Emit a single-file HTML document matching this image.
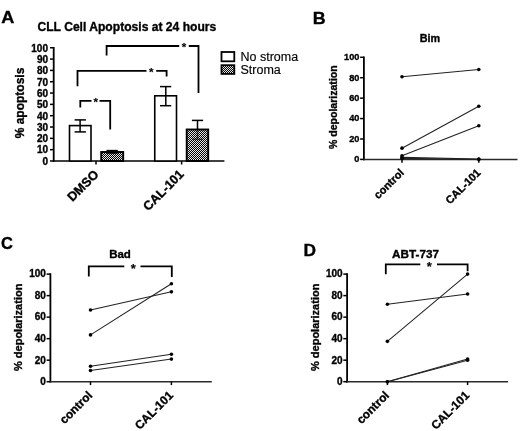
<!DOCTYPE html>
<html><head><meta charset="utf-8"><title>Figure</title>
<style>
html,body{margin:0;padding:0;background:#fff;}
svg{display:block;font-family:"Liberation Sans", Arial, Helvetica, sans-serif;fill:#000;}
.soft{filter:blur(0.35px);}
text{stroke:#000;stroke-width:0.35px;}
text.n{stroke-width:0.15px;}
</style></head><body>
<svg width="520" height="431" viewBox="0 0 520 431">
<defs>
<pattern id="chk" width="2" height="2" patternUnits="userSpaceOnUse">
<rect width="2" height="2" fill="#050505"/>
<rect width="1" height="1" fill="#e6e6e6"/><rect x="1" y="1" width="1" height="1" fill="#e6e6e6"/>
</pattern>
</defs>
<rect width="520" height="431" fill="#fff"/>
<g>
<rect x="101.2" y="152.0" width="22.0" height="9.0" fill="url(#chk)"/>
<rect x="186.7" y="129.5" width="21.5" height="31.5" fill="url(#chk)"/>
<rect x="221.5" y="65.2" width="12.8" height="8.7" fill="url(#chk)"/>
</g>
<g class="soft">
<text transform="translate(1.2 23.2) scale(1.13 1)" font-size="16" font-weight="bold">A</text>
<text x="37.5" y="31" font-size="12.1" font-weight="bold" text-anchor="start">CLL Cell Apoptosis at 24 hours</text>
<line x1="53.7" y1="46.95" x2="53.7" y2="161.8" stroke="#000" stroke-width="1.8" stroke-linecap="butt"/>
<line x1="52.800000000000004" y1="161.0" x2="224.4" y2="161.0" stroke="#000" stroke-width="1.6" stroke-linecap="butt"/>
<line x1="50.0" y1="161.0" x2="53.7" y2="161.0" stroke="#000" stroke-width="1.5" stroke-linecap="butt"/>
<text x="48" y="164.8" font-size="10" font-weight="bold" text-anchor="end">0</text>
<line x1="50.0" y1="149.675" x2="53.7" y2="149.675" stroke="#000" stroke-width="1.5" stroke-linecap="butt"/>
<text x="48" y="153.48" font-size="10" font-weight="bold" text-anchor="end">10</text>
<line x1="50.0" y1="138.35" x2="53.7" y2="138.35" stroke="#000" stroke-width="1.5" stroke-linecap="butt"/>
<text x="48" y="142.15" font-size="10" font-weight="bold" text-anchor="end">20</text>
<line x1="50.0" y1="127.025" x2="53.7" y2="127.025" stroke="#000" stroke-width="1.5" stroke-linecap="butt"/>
<text x="48" y="130.83" font-size="10" font-weight="bold" text-anchor="end">30</text>
<line x1="50.0" y1="115.69999999999999" x2="53.7" y2="115.69999999999999" stroke="#000" stroke-width="1.5" stroke-linecap="butt"/>
<text x="48" y="119.5" font-size="10" font-weight="bold" text-anchor="end">40</text>
<line x1="50.0" y1="104.375" x2="53.7" y2="104.375" stroke="#000" stroke-width="1.5" stroke-linecap="butt"/>
<text x="48" y="108.17" font-size="10" font-weight="bold" text-anchor="end">50</text>
<line x1="50.0" y1="93.05" x2="53.7" y2="93.05" stroke="#000" stroke-width="1.5" stroke-linecap="butt"/>
<text x="48" y="96.85" font-size="10" font-weight="bold" text-anchor="end">60</text>
<line x1="50.0" y1="81.725" x2="53.7" y2="81.725" stroke="#000" stroke-width="1.5" stroke-linecap="butt"/>
<text x="48" y="85.52" font-size="10" font-weight="bold" text-anchor="end">70</text>
<line x1="50.0" y1="70.39999999999999" x2="53.7" y2="70.39999999999999" stroke="#000" stroke-width="1.5" stroke-linecap="butt"/>
<text x="48" y="74.2" font-size="10" font-weight="bold" text-anchor="end">80</text>
<line x1="50.0" y1="59.07499999999999" x2="53.7" y2="59.07499999999999" stroke="#000" stroke-width="1.5" stroke-linecap="butt"/>
<text x="48" y="62.87" font-size="10" font-weight="bold" text-anchor="end">90</text>
<line x1="50.0" y1="47.75" x2="53.7" y2="47.75" stroke="#000" stroke-width="1.5" stroke-linecap="butt"/>
<text x="48" y="51.55" font-size="10" font-weight="bold" text-anchor="end">100</text>
<line x1="96" y1="161.0" x2="96" y2="164.5" stroke="#000" stroke-width="1.5" stroke-linecap="butt"/>
<line x1="181.6" y1="161.0" x2="181.6" y2="164.5" stroke="#000" stroke-width="1.5" stroke-linecap="butt"/>
<text x="23.6" y="103" font-size="12" font-weight="bold" text-anchor="middle" transform="rotate(-90 23.6 103)">% apoptosis</text>
<rect x="69.5" y="125.6" width="21.5" height="35.4" fill="#fff" stroke="#000" stroke-width="1.6"/>
<line x1="80.1" y1="119.9" x2="80.1" y2="131.9" stroke="#000" stroke-width="1.5" stroke-linecap="butt"/>
<line x1="74.6" y1="131.9" x2="85.9" y2="131.9" stroke="#000" stroke-width="1.5" stroke-linecap="butt"/>
<line x1="74.6" y1="119.9" x2="85.9" y2="119.9" stroke="#000" stroke-width="1.5" stroke-linecap="butt"/>
<rect x="101.2" y="152.0" width="22.0" height="9.0" fill="none" stroke="#000" stroke-width="1.9"/>
<line x1="112.1" y1="150.6" x2="112.1" y2="153.0" stroke="#000" stroke-width="1.5" stroke-linecap="butt"/>
<line x1="106.5" y1="153.0" x2="117.75" y2="153.0" stroke="#000" stroke-width="1.5" stroke-linecap="butt"/>
<line x1="106.5" y1="150.6" x2="117.75" y2="150.6" stroke="#000" stroke-width="1.5" stroke-linecap="butt"/>
<rect x="154.75" y="95.8" width="21.75" height="65.2" fill="#fff" stroke="#000" stroke-width="1.6"/>
<line x1="165.8" y1="86.6" x2="165.8" y2="105.7" stroke="#000" stroke-width="1.5" stroke-linecap="butt"/>
<line x1="160" y1="105.7" x2="171.25" y2="105.7" stroke="#000" stroke-width="1.5" stroke-linecap="butt"/>
<line x1="160" y1="86.6" x2="171.25" y2="86.6" stroke="#000" stroke-width="1.5" stroke-linecap="butt"/>
<rect x="186.7" y="129.5" width="21.5" height="31.5" fill="none" stroke="#000" stroke-width="1.9"/>
<line x1="197.5" y1="120.4" x2="197.5" y2="129.5" stroke="#000" stroke-width="1.5" stroke-linecap="butt"/>
<g opacity="0.55">
<line x1="197.5" y1="129.5" x2="197.5" y2="139.4" stroke="#000" stroke-width="1.5" stroke-linecap="butt"/>
<line x1="191.9" y1="139.4" x2="203.1" y2="139.4" stroke="#000" stroke-width="1.5" stroke-linecap="butt"/>
</g>
<line x1="191.9" y1="120.4" x2="203.1" y2="120.4" stroke="#000" stroke-width="1.5" stroke-linecap="butt"/>
<polyline fill="none" stroke="#000" stroke-width="1.8" points="80.3,107.6 80.3,100.9 91.5,100.9"/>
<polyline fill="none" stroke="#000" stroke-width="1.8" points="99.5,100.9 110.2,100.9 110.2,129.5"/>
<text x="95.7" y="106.4" font-size="11.5" font-weight="bold" text-anchor="middle" class="n">*</text>
<polyline fill="none" stroke="#000" stroke-width="1.8" points="77.5,86.2 77.5,70.9 146.5,70.9"/>
<polyline fill="none" stroke="#000" stroke-width="1.8" points="156.2,70.9 166.6,70.9 166.6,76.6"/>
<text x="151.3" y="75.6" font-size="11.5" font-weight="bold" text-anchor="middle" class="n">*</text>
<polyline fill="none" stroke="#000" stroke-width="1.8" points="106.6,55.6 106.6,46.0 179.2,46.0"/>
<polyline fill="none" stroke="#000" stroke-width="1.8" points="188.8,46.0 198.5,46.0 198.5,93"/>
<text x="184" y="50.7" font-size="11.5" font-weight="bold" text-anchor="middle" class="n">*</text>
<rect x="221.5" y="52" width="12.8" height="9.3" fill="#fff" stroke="#000" stroke-width="1.8"/>
<rect x="221.5" y="65.2" width="12.8" height="8.7" fill="none" stroke="#000" stroke-width="1.8"/>
<text x="240.5" y="60.6" font-size="12.5" font-weight="normal" text-anchor="start" class="n">No stroma</text>
<text x="240.5" y="73.6" font-size="12.5" font-weight="normal" text-anchor="start" class="n">Stroma</text>
<text x="99.5" y="175.2" font-size="12.7" font-weight="bold" text-anchor="end" transform="rotate(-45 99.5 175.2)">DMSO</text>
<text x="184.6" y="175.0" font-size="12.7" font-weight="bold" text-anchor="end" transform="rotate(-45 184.6 175.0)">CAL-101</text>
<text transform="translate(312.7 23.7) scale(1.08 1)" font-size="16.5" font-weight="bold">B</text>
<text x="430" y="41.9" font-size="10.8" font-weight="bold" text-anchor="middle">Bim</text>
<line x1="363.9" y1="56.5" x2="363.9" y2="160.20000000000002" stroke="#000" stroke-width="1.8" stroke-linecap="butt"/>
<line x1="363.0" y1="159.4" x2="517.5" y2="159.4" stroke="#2a2a2a" stroke-width="1.5" stroke-linecap="butt"/>
<line x1="360.09999999999997" y1="159.4" x2="363.9" y2="159.4" stroke="#000" stroke-width="1.5" stroke-linecap="butt"/>
<text x="359.4" y="162.31" font-size="9.2" font-weight="bold" text-anchor="end">0</text>
<line x1="360.09999999999997" y1="138.98" x2="363.9" y2="138.98" stroke="#000" stroke-width="1.5" stroke-linecap="butt"/>
<text x="359.4" y="141.89" font-size="9.2" font-weight="bold" text-anchor="end">20</text>
<line x1="360.09999999999997" y1="118.56" x2="363.9" y2="118.56" stroke="#000" stroke-width="1.5" stroke-linecap="butt"/>
<text x="359.4" y="121.47" font-size="9.2" font-weight="bold" text-anchor="end">40</text>
<line x1="360.09999999999997" y1="98.14" x2="363.9" y2="98.14" stroke="#000" stroke-width="1.5" stroke-linecap="butt"/>
<text x="359.4" y="101.05" font-size="9.2" font-weight="bold" text-anchor="end">60</text>
<line x1="360.09999999999997" y1="77.72" x2="363.9" y2="77.72" stroke="#000" stroke-width="1.5" stroke-linecap="butt"/>
<text x="359.4" y="80.63" font-size="9.2" font-weight="bold" text-anchor="end">80</text>
<line x1="360.09999999999997" y1="57.3" x2="363.9" y2="57.3" stroke="#000" stroke-width="1.5" stroke-linecap="butt"/>
<text x="359.4" y="60.21" font-size="9.2" font-weight="bold" text-anchor="end">100</text>
<line x1="402" y1="159.4" x2="402" y2="162.8" stroke="#000" stroke-width="1.5" stroke-linecap="butt"/>
<line x1="478.8" y1="159.4" x2="478.8" y2="162.8" stroke="#000" stroke-width="1.5" stroke-linecap="butt"/>
<text x="337" y="107.2" font-size="10.55" font-weight="bold" text-anchor="middle" transform="rotate(-90 337 107.2)">% depolarization</text>
<line x1="402" y1="76.7" x2="478.8" y2="69.55" stroke="#222" stroke-width="1.05" stroke-linecap="butt"/>
<circle cx="402" cy="76.70" r="1.8" fill="#000"/>
<circle cx="478.8" cy="69.55" r="1.8" fill="#000"/>
<line x1="402" y1="148.17" x2="478.8" y2="106.31" stroke="#222" stroke-width="1.05" stroke-linecap="butt"/>
<circle cx="402" cy="148.17" r="1.8" fill="#000"/>
<circle cx="478.8" cy="106.31" r="1.8" fill="#000"/>
<line x1="402" y1="155.83" x2="478.8" y2="125.71" stroke="#222" stroke-width="1.05" stroke-linecap="butt"/>
<circle cx="402" cy="155.83" r="1.8" fill="#000"/>
<circle cx="478.8" cy="125.71" r="1.8" fill="#000"/>
<line x1="402" y1="157.36" x2="478.8" y2="159.09" stroke="#222" stroke-width="1.05" stroke-linecap="butt"/>
<circle cx="402" cy="157.36" r="1.8" fill="#000"/>
<circle cx="478.8" cy="159.09" r="1.8" fill="#000"/>
<line x1="402" y1="158.38" x2="478.8" y2="159.4" stroke="#222" stroke-width="1.05" stroke-linecap="butt"/>
<circle cx="402" cy="158.38" r="1.8" fill="#000"/>
<circle cx="478.8" cy="159.40" r="1.8" fill="#000"/>
<text x="404.6" y="173.4" font-size="10.95" font-weight="bold" text-anchor="end" transform="rotate(-45 404.6 173.4)">control</text>
<text x="481.40000000000003" y="173.4" font-size="10.95" font-weight="bold" text-anchor="end" transform="rotate(-45 481.40000000000003 173.4)">CAL-101</text>
<text transform="translate(1 248.6) scale(1.0 1)" font-size="16.5" font-weight="bold">C</text>
<text x="120" y="258" font-size="11.5" font-weight="bold" text-anchor="middle">Bad</text>
<line x1="50.4" y1="273.3" x2="50.4" y2="382.5" stroke="#000" stroke-width="1.8" stroke-linecap="butt"/>
<line x1="49.5" y1="381.7" x2="211.8" y2="381.7" stroke="#2a2a2a" stroke-width="1.5" stroke-linecap="butt"/>
<line x1="46.6" y1="381.7" x2="50.4" y2="381.7" stroke="#000" stroke-width="1.5" stroke-linecap="butt"/>
<text x="45.9" y="385.05" font-size="10" font-weight="bold" text-anchor="end">0</text>
<line x1="46.6" y1="360.18" x2="50.4" y2="360.18" stroke="#000" stroke-width="1.5" stroke-linecap="butt"/>
<text x="45.9" y="363.53" font-size="10" font-weight="bold" text-anchor="end">20</text>
<line x1="46.6" y1="338.66" x2="50.4" y2="338.66" stroke="#000" stroke-width="1.5" stroke-linecap="butt"/>
<text x="45.9" y="342.01" font-size="10" font-weight="bold" text-anchor="end">40</text>
<line x1="46.6" y1="317.14" x2="50.4" y2="317.14" stroke="#000" stroke-width="1.5" stroke-linecap="butt"/>
<text x="45.9" y="320.49" font-size="10" font-weight="bold" text-anchor="end">60</text>
<line x1="46.6" y1="295.62" x2="50.4" y2="295.62" stroke="#000" stroke-width="1.5" stroke-linecap="butt"/>
<text x="45.9" y="298.97" font-size="10" font-weight="bold" text-anchor="end">80</text>
<line x1="46.6" y1="274.1" x2="50.4" y2="274.1" stroke="#000" stroke-width="1.5" stroke-linecap="butt"/>
<text x="45.9" y="277.45" font-size="10" font-weight="bold" text-anchor="end">100</text>
<line x1="90.5" y1="381.7" x2="90.5" y2="385.09999999999997" stroke="#000" stroke-width="1.5" stroke-linecap="butt"/>
<line x1="171.4" y1="381.7" x2="171.4" y2="385.09999999999997" stroke="#000" stroke-width="1.5" stroke-linecap="butt"/>
<text x="22" y="327.3" font-size="11" font-weight="bold" text-anchor="middle" transform="rotate(-90 22 327.3)">% depolarization</text>
<line x1="90.5" y1="310.04" x2="171.4" y2="291.85" stroke="#222" stroke-width="1.05" stroke-linecap="butt"/>
<circle cx="90.5" cy="310.04" r="1.8" fill="#000"/>
<circle cx="171.4" cy="291.85" r="1.8" fill="#000"/>
<line x1="90.5" y1="334.89" x2="171.4" y2="283.78" stroke="#222" stroke-width="1.05" stroke-linecap="butt"/>
<circle cx="90.5" cy="334.89" r="1.8" fill="#000"/>
<circle cx="171.4" cy="283.78" r="1.8" fill="#000"/>
<line x1="90.5" y1="366.31" x2="171.4" y2="354.26" stroke="#222" stroke-width="1.05" stroke-linecap="butt"/>
<circle cx="90.5" cy="366.31" r="1.8" fill="#000"/>
<circle cx="171.4" cy="354.26" r="1.8" fill="#000"/>
<line x1="90.5" y1="370.51" x2="171.4" y2="359.1" stroke="#222" stroke-width="1.05" stroke-linecap="butt"/>
<circle cx="90.5" cy="370.51" r="1.8" fill="#000"/>
<circle cx="171.4" cy="359.10" r="1.8" fill="#000"/>
<text x="93.0" y="396.09999999999997" font-size="11.9" font-weight="bold" text-anchor="end" transform="rotate(-45 93.0 396.09999999999997)">control</text>
<text x="173.9" y="396.09999999999997" font-size="11.9" font-weight="bold" text-anchor="end" transform="rotate(-45 173.9 396.09999999999997)">CAL-101</text>
<polyline fill="none" stroke="#000" stroke-width="1.8" points="88.8,276.6 88.8,266.4 124.3,266.4"/>
<polyline fill="none" stroke="#000" stroke-width="1.8" points="140.5,266.4 171.8,266.4 171.8,277"/>
<text x="133.4" y="272.59999999999997" font-size="13" font-weight="bold" text-anchor="middle" class="n">*</text>
<text transform="translate(303.4 255.5) scale(1.05 1)" font-size="16.5" font-weight="bold">D</text>
<text x="415.6" y="258.0" font-size="11.75" font-weight="bold" text-anchor="middle">ABT-737</text>
<line x1="347.1" y1="273.3" x2="347.1" y2="382.5" stroke="#000" stroke-width="1.8" stroke-linecap="butt"/>
<line x1="346.20000000000005" y1="381.7" x2="508" y2="381.7" stroke="#2a2a2a" stroke-width="1.5" stroke-linecap="butt"/>
<line x1="343.3" y1="381.7" x2="347.1" y2="381.7" stroke="#000" stroke-width="1.5" stroke-linecap="butt"/>
<text x="342.6" y="385.05" font-size="10" font-weight="bold" text-anchor="end">0</text>
<line x1="343.3" y1="360.18" x2="347.1" y2="360.18" stroke="#000" stroke-width="1.5" stroke-linecap="butt"/>
<text x="342.6" y="363.53" font-size="10" font-weight="bold" text-anchor="end">20</text>
<line x1="343.3" y1="338.66" x2="347.1" y2="338.66" stroke="#000" stroke-width="1.5" stroke-linecap="butt"/>
<text x="342.6" y="342.01" font-size="10" font-weight="bold" text-anchor="end">40</text>
<line x1="343.3" y1="317.14" x2="347.1" y2="317.14" stroke="#000" stroke-width="1.5" stroke-linecap="butt"/>
<text x="342.6" y="320.49" font-size="10" font-weight="bold" text-anchor="end">60</text>
<line x1="343.3" y1="295.62" x2="347.1" y2="295.62" stroke="#000" stroke-width="1.5" stroke-linecap="butt"/>
<text x="342.6" y="298.97" font-size="10" font-weight="bold" text-anchor="end">80</text>
<line x1="343.3" y1="274.1" x2="347.1" y2="274.1" stroke="#000" stroke-width="1.5" stroke-linecap="butt"/>
<text x="342.6" y="277.45" font-size="10" font-weight="bold" text-anchor="end">100</text>
<line x1="387.4" y1="381.7" x2="387.4" y2="385.09999999999997" stroke="#000" stroke-width="1.5" stroke-linecap="butt"/>
<line x1="467.6" y1="381.7" x2="467.6" y2="385.09999999999997" stroke="#000" stroke-width="1.5" stroke-linecap="butt"/>
<text x="318.9" y="327.3" font-size="11" font-weight="bold" text-anchor="middle" transform="rotate(-90 318.9 327.3)">% depolarization</text>
<line x1="387.4" y1="304.23" x2="467.6" y2="294.01" stroke="#222" stroke-width="1.05" stroke-linecap="butt"/>
<circle cx="387.4" cy="304.23" r="1.8" fill="#000"/>
<circle cx="467.6" cy="294.01" r="1.8" fill="#000"/>
<line x1="387.4" y1="341.35" x2="467.6" y2="274.1" stroke="#222" stroke-width="1.05" stroke-linecap="butt"/>
<circle cx="387.4" cy="341.35" r="1.8" fill="#000"/>
<circle cx="467.6" cy="274.10" r="1.8" fill="#000"/>
<line x1="387.4" y1="381.7" x2="467.6" y2="359.1" stroke="#222" stroke-width="1.05" stroke-linecap="butt"/>
<circle cx="387.4" cy="381.70" r="1.8" fill="#000"/>
<circle cx="467.6" cy="359.10" r="1.8" fill="#000"/>
<line x1="387.4" y1="381.7" x2="467.6" y2="360.18" stroke="#222" stroke-width="1.05" stroke-linecap="butt"/>
<circle cx="387.4" cy="381.70" r="1.8" fill="#000"/>
<circle cx="467.6" cy="360.18" r="1.8" fill="#000"/>
<text x="389.9" y="396.09999999999997" font-size="11.9" font-weight="bold" text-anchor="end" transform="rotate(-45 389.9 396.09999999999997)">control</text>
<text x="470.1" y="396.09999999999997" font-size="11.9" font-weight="bold" text-anchor="end" transform="rotate(-45 470.1 396.09999999999997)">CAL-101</text>
<polyline fill="none" stroke="#000" stroke-width="1.8" points="385.8,274.3 385.8,264.3 420.3,264.3"/>
<polyline fill="none" stroke="#000" stroke-width="1.8" points="437,264.3 467.6,264.3 467.6,271.2"/>
<text x="429.2" y="270.5" font-size="13" font-weight="bold" text-anchor="middle" class="n">*</text>
</g>
</svg>
</body></html>
